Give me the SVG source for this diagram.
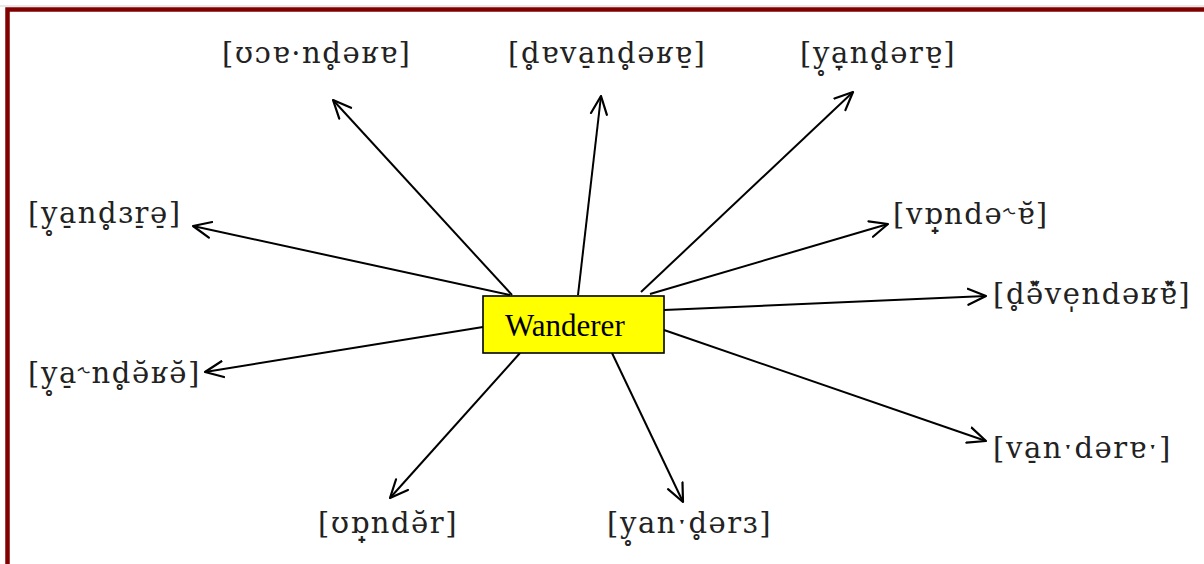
<svg xmlns="http://www.w3.org/2000/svg" width="1204" height="564" viewBox="0 0 1204 564">
<defs>
<marker id="arr" viewBox="0 0 20 20" refX="19" refY="10" markerWidth="20" markerHeight="20" markerUnits="userSpaceOnUse" orient="auto">
<path d="M1,2 L19,10 L1,18" fill="none" stroke="#000" stroke-width="2.2" stroke-linecap="round" stroke-linejoin="round"/>
</marker>
<style>
.lbl{font-family:"DejaVu Serif","Liberation Serif",serif;font-size:29px;letter-spacing:1.6px;fill:#222}
.c line{stroke:#000;stroke-width:2;marker-end:url(#arr)}
</style>
</defs>
<rect width="1204" height="564" fill="#fff"/>
<line x1="0" y1="6" x2="1204" y2="6" stroke="#d0d0d0" stroke-width="1"/>
<path d="M7.5,564 V9.5 H1204" fill="none" stroke="#800000" stroke-width="4.5"/>
<g class="c" id="connectors">
<line x1="512" y1="295" x2="333" y2="100"/>
<line x1="578" y1="295" x2="601" y2="96"/>
<line x1="641" y1="292" x2="853" y2="92"/>
<line x1="510" y1="295" x2="193" y2="226"/>
<line x1="483" y1="327" x2="205" y2="372"/>
<line x1="650" y1="294" x2="888" y2="224"/>
<line x1="664" y1="310" x2="986" y2="296"/>
<line x1="664" y1="330" x2="986" y2="441"/>
<line x1="520" y1="353" x2="390" y2="498"/>
<line x1="612" y1="353" x2="683" y2="502"/>
</g>
<g id="center">
<rect x="483" y="296" width="181" height="57" fill="#ffff00" stroke="#000" stroke-width="1.6"/>
<text x="505" y="336" font-family="Liberation Serif, serif" font-size="31" fill="#000">Wanderer</text>
</g>
<g id="n1"><text class="lbl" x="222" y="63">[ʊɔɐ·nd̥əʁɐ]</text></g>
<g id="n2"><text class="lbl" x="508" y="63">[d̥ɐva̠nd̥əʁɐ̠]</text></g>
<g id="n3"><text class="lbl" x="800" y="63">[y̥a̞nd̥ərɐ̠]</text></g>
<g id="n4"><text class="lbl" x="28" y="223">[y̥a̠nd̥ɜr̠ə̠]</text></g>
<g id="n5"><text class="lbl" x="28" y="383">[y̥a̠˞nd̥ə̆ʁə̆]</text></g>
<g id="n6"><text class="lbl" x="893" y="224">[vɒ̟ndə˞ɐ̆]</text></g>
<g id="n7"><text class="lbl" x="993" y="304">[d̥ə̆̽ve̩ndəʁɐ̆̽]</text></g>
<g id="n8"><text class="lbl" x="993" y="458">[va̠nˑdərɐˑ]</text></g>
<g id="n9"><text class="lbl" x="318" y="533">[ʊɒ̟ndə̆r]</text></g>
<g id="n10"><text class="lbl" x="607" y="533">[y̥anˑd̥ərɜ]</text></g>
</svg>
